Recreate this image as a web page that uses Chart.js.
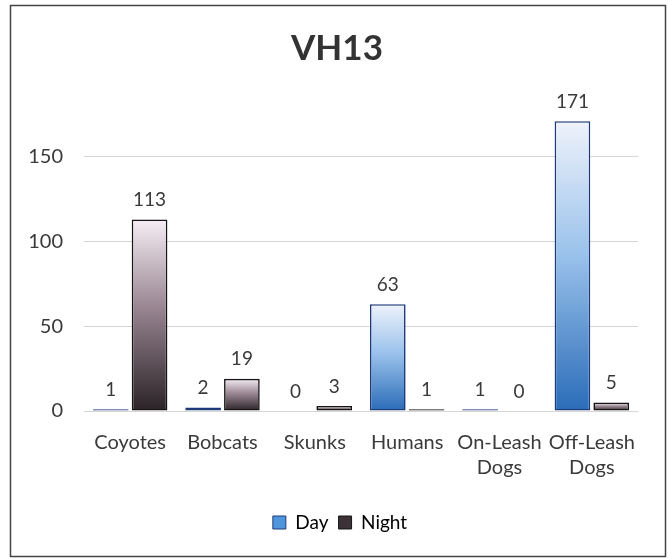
<!DOCTYPE html>
<html>
<head>
<meta charset="utf-8">
<script src="https://cdn.jsdelivr.net/npm/chart.js@4/dist/chart.umd.min.js"></script>
<style>
html,body{margin:0;padding:0;background:#fff;}
#wrap{position:relative;width:668px;height:558px;}
canvas{display:block;}
</style>
</head>
<body>
<div id="wrap"><canvas id="c" width="668" height="558"></canvas></div>
<script>
const title = "VH13";
const categories = [["Coyotes"], ["Bobcats"], ["Skunks"], ["Humans"], ["On-Leash", "Dogs"], ["Off-Leash", "Dogs"]];
const dayValues = [1, 2, 0, 63, 1, 171];
const nightValues = [113, 19, 3, 1, 0, 5];
const yTicks = [0, 50, 100, 150];
const seriesNames = ["Day", "Night"];

const FONT = "Lato, 'Open Sans', sans-serif";
const TEXT = "#3a3a3a";

function makeGrad(context, light, dark, small, tiny) {
  const chart = context.chart;
  const area = chart.chartArea;
  if (!area || context.type !== 'data') return dark;
  const y = chart.scales.y;
  const v = context.parsed ? context.parsed.y : 0;
  const top = y.getPixelForValue(v);
  const bot = y.getPixelForValue(0);
  if (!isFinite(top) || !isFinite(bot)) return dark;
  const h = Math.abs(bot - top);
  if (h < 2.5) return tiny;
  if (h < 4) return small;
  const g = chart.ctx.createLinearGradient(0, top, 0, bot);
  g.addColorStop(0, light[0]);
  g.addColorStop(0.45, light[1]);
  g.addColorStop(1, dark);
  return g;
}

const frame = {
  id: 'frame',
  beforeDraw(chart) {
    if (chart.titleBlock) { chart.titleBlock.left += 6; chart.titleBlock.right += 6; }
    if (chart.legend) { chart.legend.left += 9; chart.legend.right += 9; }
  },
  afterDraw(chart) {
    const c = chart.ctx;
    c.save();
    c.strokeStyle = '#444';
    c.lineWidth = 1.5;
    c.strokeRect(10.5, 5.5, 655, 551);
    c.restore();
  }
};

const valueLabels = {
  id: 'valueLabels',
  afterDatasetsDraw(chart) {
    const c = chart.ctx;
    c.save();
    c.font = "19px " + FONT;
    c.fillStyle = TEXT;
    c.textAlign = 'center';
    c.textBaseline = 'bottom';
    chart.data.datasets.forEach((ds, di) => {
      const meta = chart.getDatasetMeta(di);
      meta.data.forEach((bar, i) => {
        c.fillText(String(ds.data[i]), bar.x, bar.y - 10);
      });
    });
    c.restore();
  }
};

new Chart(document.getElementById('c'), {
  type: 'bar',
  data: {
    labels: categories,
    datasets: [
      {
        label: seriesNames[0],
        data: dayValues,
        backgroundColor: (ctx) => makeGrad(ctx, ['#eef2fa', '#9cc3ec'], '#2a6cb8', '#3b7fcf', '#2a4a8a'),
        borderColor: '#1f3a78',
        borderWidth: 1.6,
        borderSkipped: false
      },
      {
        label: seriesNames[1],
        data: nightValues,
        backgroundColor: (ctx) => makeGrad(ctx, ['#f6eef4', '#9a8793'], '#2a2226', '#2a2226', '#2a2226'),
        borderColor: '#151515',
        borderWidth: 1.6,
        borderSkipped: false
      }
    ]
  },
  options: {
    responsive: false,
    animation: false,
    devicePixelRatio: 1,
    layout: { padding: { left: 24, right: 30, top: 26, bottom: 16 } },
    datasets: { bar: { categoryPercentage: 0.84, barPercentage: 0.92 } },
    scales: {
      x: {
        grid: { display: false, drawTicks: false },
        border: { display: false },
        afterFit: (s) => { s.height += 4; s.paddingLeft = 0; s.paddingRight = 0; },
        ticks: {
          color: TEXT,
          font: { family: FONT, size: 20, lineHeight: 1.25 },
          padding: 19,
          maxRotation: 0,
          autoSkip: false
        }
      },
      y: {
        min: 0,
        max: 190,
        afterBuildTicks: (scale) => { scale.ticks = yTicks.map(v => ({ value: v })); },
        afterFit: (s) => { s.width = 60; },
        grid: { color: '#d6d6d6', lineWidth: 1, drawTicks: false },
        border: { display: false },
        ticks: {
          color: TEXT,
          font: { family: FONT, size: 20 },
          padding: 21
        }
      }
    },
    plugins: {
      title: {
        display: true,
        text: title,
        color: '#333',
        font: { family: FONT, size: 35, weight: 'bold' },
        padding: { top: 2, bottom: 19 }
      },
      legend: {
        position: 'bottom',
        labels: {
          color: TEXT,
          font: { family: FONT, size: 19 },
          boxWidth: 13,
          boxHeight: 13,
          padding: 10,
          generateLabels: (chart) => [
            { text: seriesNames[0], fillStyle: '#4f95dc', strokeStyle: '#1f3a78', lineWidth: 1, datasetIndex: 0 },
            { text: seriesNames[1], fillStyle: '#3a3236', strokeStyle: '#151515', lineWidth: 1, datasetIndex: 1 }
          ]
        }
      },
      tooltip: { enabled: false }
    }
  },
  plugins: [frame, valueLabels]
});
</script>
</body>
</html>
